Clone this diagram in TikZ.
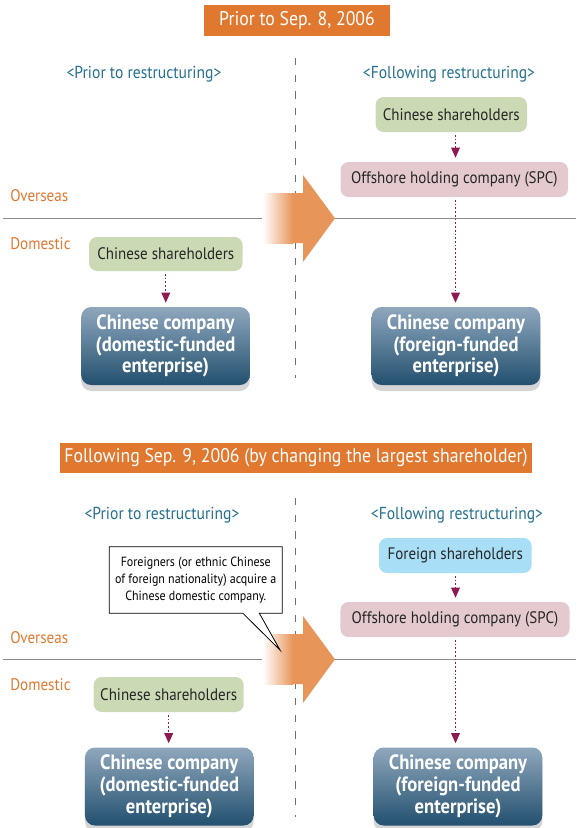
\documentclass[tikz,border=0pt]{standalone}
\usepackage{fontspec}
\setmainfont[FakeStretch=0.9]{PT Sans}
\usetikzlibrary{arrows.meta,shadows}
\definecolor{orng}{HTML}{E07830}
\definecolor{arrc}{HTML}{E8955A}
\definecolor{teal}{HTML}{23708F}
\definecolor{greenb}{HTML}{CBD9B4}
\definecolor{pinkb}{HTML}{E4CACE}
\definecolor{blueb}{HTML}{A8DEF6}
\definecolor{darkred}{HTML}{8E1A50}
\definecolor{cotop}{HTML}{8FA7BD}
\definecolor{cobot}{HTML}{22506E}
\definecolor{shad}{HTML}{D4D4D6}
\definecolor{linec}{HTML}{8A8A8A}
\definecolor{dashc}{HTML}{707070}
\tikzset{
  title/.style={fill=orng, text=white, inner sep=0pt, font=\fontsize{14.8}{16}\selectfont},
  phase/.style={text=teal, inner sep=0pt, font=\fontsize{13}{15}\selectfont},
  zone/.style={text=orng, inner sep=0pt, anchor=west, font=\fontsize{12.6}{14}\selectfont},
  softbox/.style={rounded corners=6pt, inner sep=0pt, text=black!85, font=\fontsize{12.5}{14}\selectfont, minimum height=26.25pt},
  cobox/.style={rounded corners=7.5pt, inner sep=0pt, text=white, align=center,
     top color=cotop, bottom color=cobot, minimum width=126.5pt, minimum height=58.5pt,
     font=\bfseries\fontsize{15.5}{16.3}\selectfont,
     drop shadow={shadow xshift=0pt, shadow yshift=-4.5pt, opacity=1, fill=shad}},
  dotarrow/.style={draw=darkred, line width=0.8pt, dash pattern=on 1.3pt off 1.5pt,
     -{Triangle[length=7.5pt,width=6.5pt,fill=darkred]}},
  sepline/.style={draw=linec, line width=0.9pt},
  divline/.style={draw=dashc, line width=1.2pt, dash pattern=on 5.5pt off 7pt},
  callout/.style={inner sep=0pt, align=center, minimum width=129.4pt, minimum height=49.5pt,
     font=\fontsize{10}{13}\selectfont}
}
\newcommand{\bigarrow}{%
  \shade[left color=white, right color=arrc, shading angle=90] (262.7,193) rectangle (293,243);
  \fill[arrc] (292.5,193) -- (303,193) -- (303,175) -- (335,218.3) -- (303,262) -- (303,243) -- (292.5,243) -- cycle;
}
\begin{document}
\begin{tikzpicture}[x=0.75pt,y=-0.75pt]
\useasboundingbox (0,0) rectangle (576,828);
% ===== Section 1 =====
\node[title, minimum width=139.5pt, minimum height=23.25pt] (t1) at (297,20.5) {Prior to Sep. 8, 2006};
\draw[divline] (295.4,58) -- (295.4,378);
\draw[sepline] (3,218.3) -- (576,218.3);
\bigarrow
\node[phase] (p1a) at (144,74) {<Prior to restructuring>};
\node[phase] (p1b) at (449,74) {<Following restructuring>};
\node[zone] (ov1) at (10,196) {Overseas};
\node[zone] (do1) at (10,244) {Domestic};
\node[softbox, fill=greenb, minimum width=113.6pt] (cs1r) at (451.3,114.5) {Chinese shareholders};
\node[softbox, fill=pinkb, minimum width=170.6pt] (spc1) at (454.3,179.5) {Offshore holding company (SPC)};
\node[softbox, fill=greenb, minimum width=115.1pt, minimum height=25.5pt] (cs1l) at (165.8,254) {Chinese shareholders};
\node[cobox] (co1l) at (165.5,346) {Chinese company\\(domestic-funded\\enterprise)};
\node[cobox] (co1r) at (456,346) {Chinese company\\(foreign-funded\\enterprise)};
\draw[dotarrow, shorten <=2pt, shorten >=3pt] (cs1r.south -| 455.5,0) -- (spc1.north -| 455.5,0);
\draw[dotarrow, shorten <=2pt, shorten >=3pt] (spc1.south -| 455.5,0) -- (co1r.north -| 455.5,0);
\draw[dotarrow, shorten <=2pt, shorten >=3pt] (cs1l.south) -- (co1l.north -| cs1l.south);
% ===== Section 2 =====
\node[title, minimum width=354pt, minimum height=22.5pt] (t2) at (296,458) {Following Sep. 9, 2006 (by changing the largest shareholder)};
\draw[divline] (295.4,498) -- (295.4,817);
\draw[sepline] (3,659.3) -- (576,659.3);
\begin{scope}[shift={(0,441)}]
\bigarrow
\end{scope}
\node[phase] (p2a) at (162,515) {<Prior to restructuring>};
\node[phase] (p2b) at (457,515) {<Following restructuring>};
\node[zone] (ov2) at (10,638) {Overseas};
\node[zone] (do2) at (10,685) {Domestic};
\node[softbox, fill=blueb, minimum width=114.4pt] (fs2) at (455.3,555.5) {Foreign shareholders};
\node[softbox, fill=pinkb, minimum width=171.8pt] (spc2) at (455,619.5) {Offshore holding company (SPC)};
\node[softbox, fill=greenb, minimum width=112.5pt] (cs2l) at (168.7,694.5) {Chinese shareholders};
\node[cobox] (co2l) at (169.3,786.5) {Chinese company\\(domestic-funded\\enterprise)};
\node[cobox] (co2r) at (458,786.5) {Chinese company\\(foreign-funded\\enterprise)};
\draw[dotarrow, shorten <=2pt, shorten >=3pt] (fs2.south -| 455.5,0) -- (spc2.north -| 455.5,0);
\draw[dotarrow, shorten <=2pt, shorten >=3pt] (spc2.south -| 455.5,0) -- (co2r.north -| 455.5,0);
\draw[dotarrow, shorten <=2pt, shorten >=3pt] (cs2l.south) -- (co2l.north -| cs2l.south);
% callout
\node[callout] (cb) at (195.8,580) {Foreigners (or ethnic Chinese\\of foreign nationality) acquire a\\Chinese domestic company.};
\coordinate (tip) at (280,650);
\filldraw[fill=white, draw=black, line width=0.6pt]
  (cb.north west) -- (cb.north east) -- (cb.south east) -- ([xshift=-17.25pt]cb.south east)
  -- (tip) -- ([xshift=-29.6pt]cb.south east) -- (cb.south west) -- cycle;
\node[callout] at (cb.center) {Foreigners (or ethnic Chinese\\of foreign nationality) acquire a\\Chinese domestic company.};
\end{tikzpicture}
\end{document}
